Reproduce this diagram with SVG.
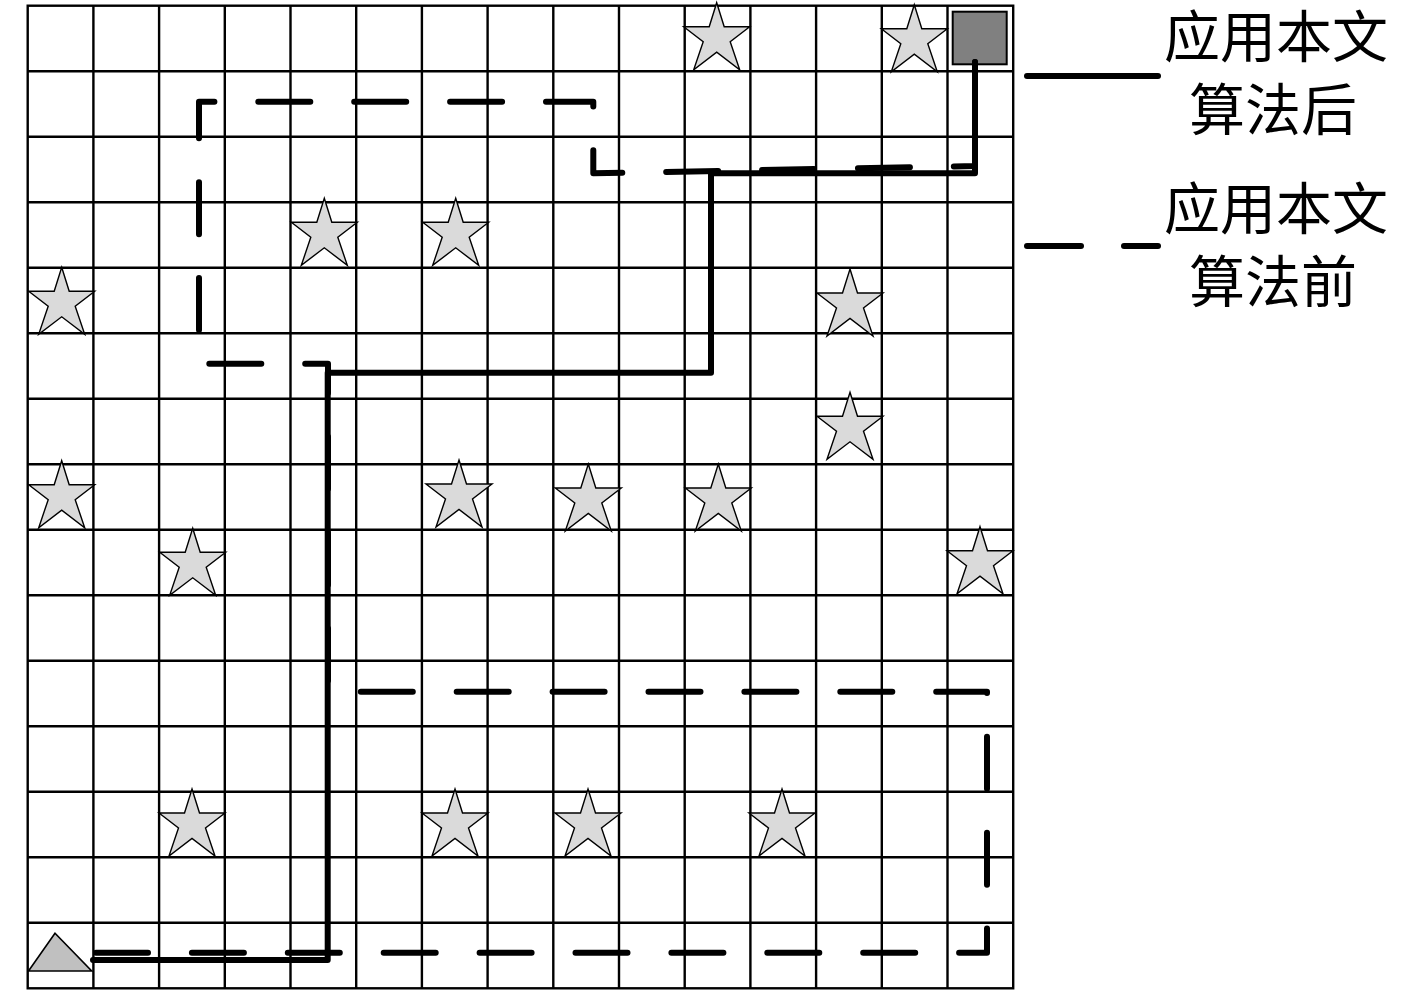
<svg xmlns="http://www.w3.org/2000/svg" xmlns:xlink="http://www.w3.org/1999/xlink" width="1417" height="992" viewBox="0 0 1417 992">
<style>
.grid{stroke:#000;stroke-width:2.4;fill:none}
.star{fill:#dadada;stroke:#000;stroke-width:1.4;stroke-linejoin:miter}
.solid{fill:none;stroke:#000;stroke-width:6;stroke-linecap:round;stroke-linejoin:round}
.dash{fill:none;stroke:#000;stroke-width:6;stroke-linecap:round;stroke-linejoin:round;stroke-dasharray:52 43.9}
.lbl{font-family:"Liberation Sans","Noto Sans CJK SC",sans-serif;font-size:56px;fill:#000;text-anchor:middle}
</style>
<defs>
<polygon id="star" points="0,0 7.5,24 33,24 13.5,39 23,67 0,49.5 -23,67 -13.5,39 -33,24 -7.5,24"/>
</defs>
<rect x="0" y="0" width="1417" height="992" fill="#fff"/>
<g id="grid" class="grid">
<rect x="27.7" y="5.7" width="985.5" height="982.6"/>
<path d="M93.4 5.7V988.3M159.1 5.7V988.3M224.8 5.7V988.3M290.5 5.7V988.3M356.2 5.7V988.3M421.9 5.7V988.3M487.6 5.7V988.3M553.3 5.7V988.3M619 5.7V988.3M684.7 5.7V988.3M750.4 5.7V988.3M816.1 5.7V988.3M881.8 5.7V988.3M947.5 5.7V988.3
M27.7 71.2H1013.2M27.7 136.7H1013.2M27.7 202.2H1013.2M27.7 267.7H1013.2M27.7 333.2H1013.2M27.7 398.7H1013.2M27.7 464.2H1013.2M27.7 529.7H1013.2M27.7 595.2H1013.2M27.7 660.7H1013.2M27.7 726.2H1013.2M27.7 791.7H1013.2M27.7 857.2H1013.2M27.7 922.7H1013.2"/>
</g>
<g id="obstacles" class="star">
<use href="#star" x="716.7" y="2.7"/>
<use href="#star" x="914.3" y="4.7"/>
<use href="#star" x="324.3" y="198.3"/>
<use href="#star" x="455.7" y="198.3"/>
<use href="#star" x="61.7" y="267.3"/>
<use href="#star" x="850" y="269"/>
<use href="#star" x="850" y="392.3"/>
<use href="#star" x="61.7" y="460.7"/>
<use href="#star" x="459" y="460"/>
<use href="#star" x="588.3" y="464"/>
<use href="#star" x="718.3" y="464"/>
<use href="#star" x="192.7" y="528.3"/>
<use href="#star" x="980" y="526.7"/>
<use href="#star" x="192" y="789"/>
<use href="#star" x="455" y="789"/>
<use href="#star" x="588" y="789"/>
<use href="#star" x="782" y="789"/>
</g>
<g id="start">
<polygon points="55,933.3 28.5,971 91.7,971" fill="#c0c0c0" stroke="#000" stroke-width="1.6"/>
</g>
<g id="goal">
<rect x="952.7" y="11.7" width="54" height="52.6" fill="#808080" stroke="#000" stroke-width="2"/>
</g>
<g id="connectors">
<polyline class="dash" points="96,952.7 987,952.7 987,691.7 328,691.7 328,363.7 199,363.7 199,101.7 593.3,101.7 593.3,173.3 975,166 975,62"/>
<polyline class="solid" points="93,960 327.7,960 327.7,372.7 711,372.7 711,173.3 975,173.3 975,62"/>
</g>
<g id="legend-after">
<line class="solid" x1="1027" y1="76" x2="1158" y2="76"/>
<text class="lbl" x="1276" y="57">应用本文</text>
<text class="lbl" x="1273" y="130">算法后</text>
</g>
<g id="legend-before">
<line class="solid" x1="1027" y1="246" x2="1081" y2="246"/>
<line class="solid" x1="1124" y1="246" x2="1158" y2="246"/>
<text class="lbl" x="1276" y="229">应用本文</text>
<text class="lbl" x="1273" y="302">算法前</text>
</g>
</svg>
